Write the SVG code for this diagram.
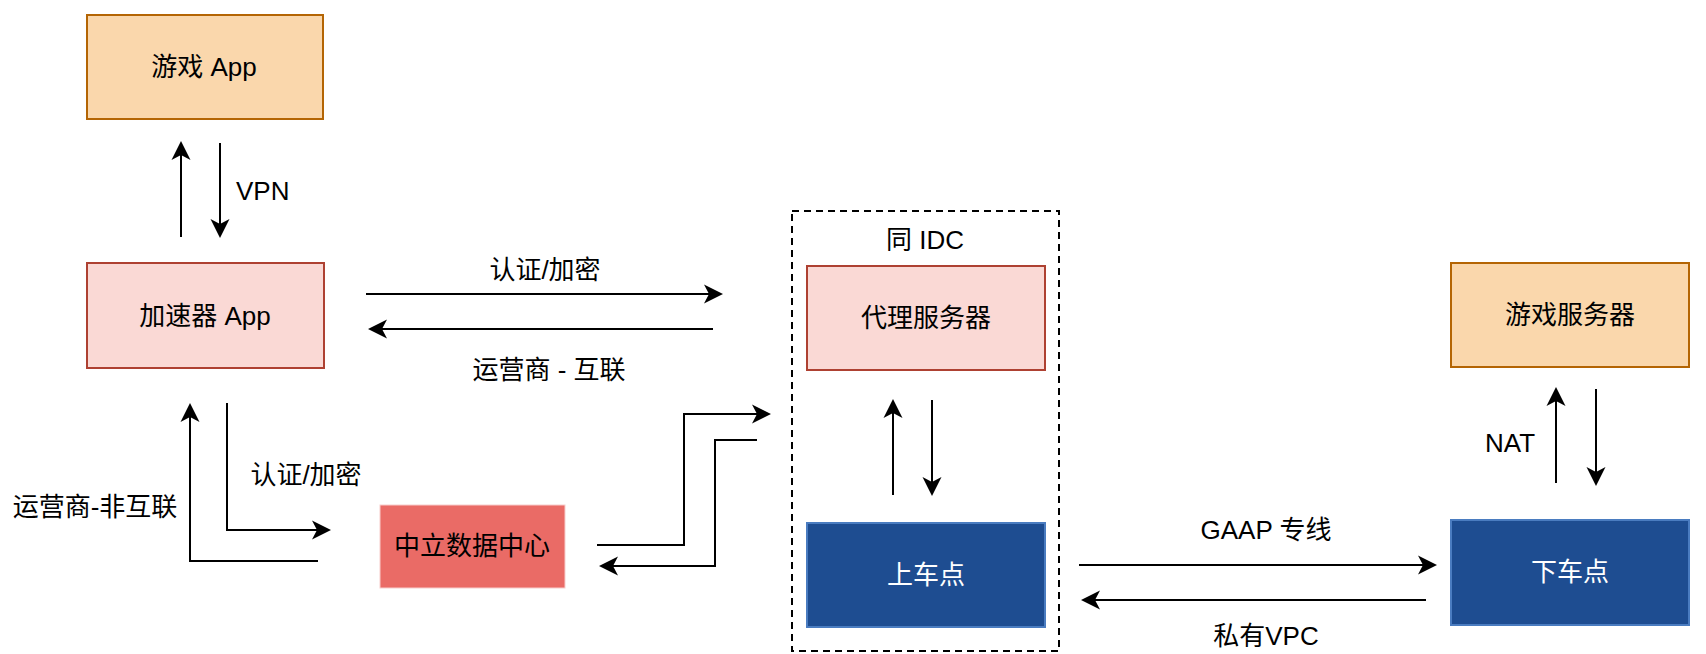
<svg xmlns="http://www.w3.org/2000/svg" width="1706" height="654" viewBox="0 0 1706 654">
<style>
text{font-family:"Liberation Sans","Noto Sans CJK SC",sans-serif;font-size:26px;fill:#000;dominant-baseline:central;text-anchor:middle}
.w{fill:#fff}
.orange{fill:#fad7ac;stroke:#b46504;stroke-width:2}
.pink{fill:#fad9d5;stroke:#ae4132;stroke-width:2}
.red{fill:#ea6b66;stroke:#f8cecc;stroke-width:1}
.blue{fill:#1e4d91;stroke:#4a7cc0;stroke-width:2}
.c{fill:none;stroke:#000;stroke-width:2;marker-end:url(#ah)}
</style>
<defs>
<marker id="ah" markerUnits="userSpaceOnUse" markerWidth="24" markerHeight="24" viewBox="-2 -12 24 24" refX="9" refY="0" orient="auto">
<path d="M0,-9.5 L19,0 L0,9.5 L5,0 Z" fill="#000"/>
</marker>
</defs>
<rect width="1706" height="654" fill="#fff"/>
<g id="idc-group">
<rect x="792" y="211" width="267" height="440" fill="none" stroke="#000" stroke-width="2" stroke-dasharray="7 5"/>
<text x="925" y="240">同 IDC</text>
</g>
<g id="game-app"><rect class="orange" x="87" y="15" width="236" height="104"/><text x="204" y="67">游戏 App</text></g>
<g id="accel-app"><rect class="pink" x="87" y="263" width="237" height="105"/><text x="205" y="316">加速器 App</text></g>
<g id="neutral-dc"><rect class="red" x="380" y="505" width="185" height="83"/><text x="472" y="546">中立数据中心</text></g>
<g id="proxy"><rect class="pink" x="807" y="266" width="238" height="104"/><text x="926" y="318">代理服务器</text></g>
<g id="onramp"><rect class="blue" x="807" y="523" width="238" height="104"/><text class="w" x="926" y="575">上车点</text></g>
<g id="game-server"><rect class="orange" x="1451" y="263" width="238" height="104"/><text x="1570" y="315">游戏服务器</text></g>
<g id="offramp"><rect class="blue" x="1451" y="520" width="238" height="105"/><text class="w" x="1570" y="572">下车点</text></g>
<g id="connectors">
<path class="c" d="M181,237 V151"/>
<path class="c" d="M220,143 V228"/>
<path class="c" d="M366,294 H713"/>
<path class="c" d="M713,329 H378"/>
<path class="c" d="M318,561 H190 V413"/>
<path class="c" d="M227,403 V530 H321"/>
<path class="c" d="M597,545 H684 V414 H761"/>
<path class="c" d="M757,440 H715 V566 H609"/>
<path class="c" d="M893,495 V409"/>
<path class="c" d="M932,400 V486"/>
<path class="c" d="M1079,565 H1427"/>
<path class="c" d="M1426,600 H1091"/>
<path class="c" d="M1556,483 V397"/>
<path class="c" d="M1596,389 V476"/>
</g>
<g id="labels">
<text x="236" y="191" style="text-anchor:start">VPN</text>
<text x="545" y="270">认证/加密</text>
<text x="549" y="370">运营商 - 互联</text>
<text x="306" y="475">认证/加密</text>
<text x="95" y="507">运营商-非互联</text>
<text x="1510" y="443">NAT</text>
<text x="1266" y="530">GAAP 专线</text>
<text x="1266" y="636">私有VPC</text>
</g>
</svg>
